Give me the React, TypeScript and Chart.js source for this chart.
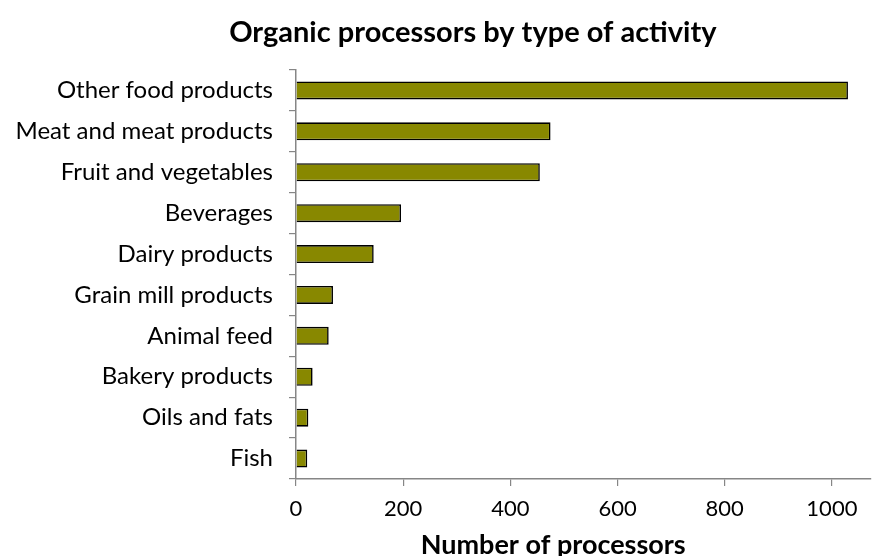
import React, { useEffect, useRef } from "react";
import { Chart, registerables } from "chart.js";

Chart.register(...registerables);

const categories = [
  "Other food products",
  "Meat and meat products",
  "Fruit and vegetables",
  "Beverages",
  "Dairy products",
  "Grain mill products",
  "Animal feed",
  "Bakery products",
  "Oils and fats",
  "Fish",
];
const processors = [1030, 475, 455, 196, 145, 69, 61, 31, 23, 21];
const xTickValues = [0, 200, 400, 600, 800, 1000];

const TITLE = "Organic processors by type of activity";
const X_TITLE = "Number of processors";
const FONT = "Lato, 'Liberation Sans', sans-serif";
const AXIS_GRAY = "#868686";

export default function App() {
  const ref = useRef<HTMLCanvasElement | null>(null);

  useEffect(() => {
    document.body.style.margin = "0";
    const canvas = ref.current;
    if (!canvas) return;

    const textPlugin = {
      id: "textPlugin",
      afterDraw(chart: any) {
        const ctx = chart.ctx;
        const xs = chart.scales.x;
        ctx.save();
        ctx.fillStyle = "#000";
        ctx.textAlign = "center";
        ctx.textBaseline = "middle";
        ctx.font = `bold 29px ${FONT}`;
        ctx.fillText(TITLE, xs.getPixelForValue(330), 33);
        ctx.font = `bold 27px ${FONT}`;
        ctx.fillText(X_TITLE, xs.getPixelForValue(480), 545);
        ctx.restore();
      },
    };

    const chart = new Chart(canvas, {
      type: "bar",
      data: {
        labels: categories,
        datasets: [
          {
            data: processors,
            backgroundColor: "#888800",
            borderColor: "#000000",
            borderWidth: 1.6,
            barPercentage: 0.44,
            categoryPercentage: 1,
          },
        ],
      },
      options: {
        indexAxis: "y",
        animation: false,
        responsive: false,
        maintainAspectRatio: false,
        layout: { padding: { left: 0, right: 2, top: 70, bottom: 0 } },
        plugins: {
          legend: { display: false },
          tooltip: { enabled: false },
          title: { display: false },
        },
        scales: {
          x: {
            type: "linear",
            min: 0,
            max: 1073,
            afterBuildTicks: (scale: any) => {
              scale.ticks = xTickValues.map((v) => ({ value: v }));
            },
            afterFit: (scale: any) => {
              scale.height = 556 - 479;
            },
            ticks: {
              color: "#000",
              font: { family: FONT, size: 22 },
              padding: 10,
              maxRotation: 0,
              callback: (v: any) => String(v),
            },
            grid: {
              drawOnChartArea: false,
              drawTicks: true,
              tickLength: 7,
              color: AXIS_GRAY,
              lineWidth: 1.2,
            },
            border: { display: true, color: AXIS_GRAY, width: 1.5 },
          },
          y: {
            type: "category",
            afterFit: (scale: any) => {
              scale.width = 296;
            },
            ticks: {
              color: "#000",
              font: { family: FONT, size: 24 },
              padding: 16,
            },
            grid: {
              offset: true,
              drawOnChartArea: false,
              drawTicks: true,
              tickLength: 7,
              color: AXIS_GRAY,
              lineWidth: 1.2,
            },
            border: { display: true, color: AXIS_GRAY, width: 1.5 },
          },
        },
      },
      plugins: [textPlugin],
    });

    return () => chart.destroy();
  }, []);

  return (
    <div style={{ width: 873, height: 556, position: "relative", background: "#fff" }}>
      <canvas ref={ref} width={873} height={556} style={{ display: "block" }} />
    </div>
  );
}
